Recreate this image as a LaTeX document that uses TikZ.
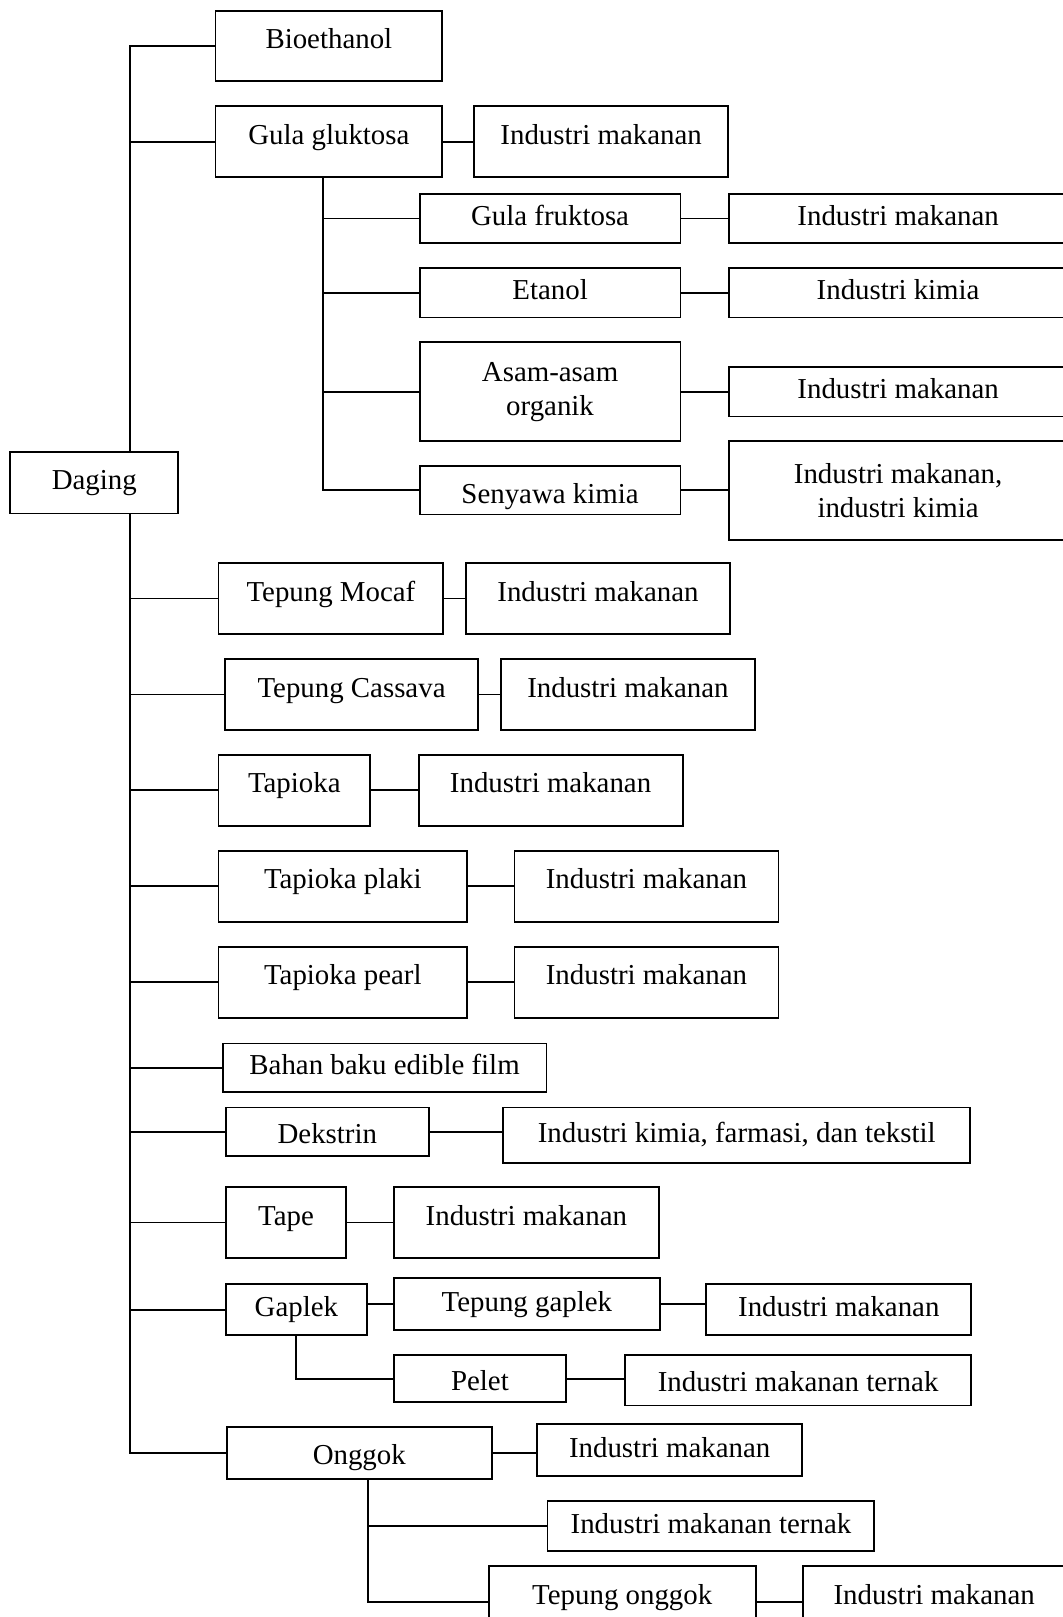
\documentclass[tikz,border=0pt]{standalone}
\usepackage{fontspec}
\setmainfont{Liberation Serif}
\usepackage{tikz}

\tikzset{
  box/.style={draw, anchor=north west, inner sep=2pt, font=\fontsize{28}{33}\selectfont},
  bsize/.style 2 args={minimum width=#1pt, minimum height=#2pt},
  upper/.style={text height=20pt, text depth=15pt},
  mid/.style={text height=20pt, text depth=6pt},
  low/.style={text height=28pt, text depth=6pt},
  lower/.style={text height=32pt, text depth=6pt}
}

\begin{document}
\begin{tikzpicture}[x=1pt, y=1pt, line width=1.8pt]
  \useasboundingbox (0,0) rectangle (1030,-1568);

  % Source
  \node[box, mid, bsize={163}{60}] (daging) at (9,-437) {Daging};

  % Upper branch
  \node[box, upper, bsize={220}{68}] (bio) at (208,-10) {Bioethanol};
  \node[box, upper, bsize={220}{69}] (gluk) at (208,-102) {Gula gluktosa};
  \node[box, upper, bsize={246}{69}] (gluk-ind) at (459,-102) {Industri makanan};

  % Products of gula gluktosa
  \node[box, mid, bsize={253}{48}] (fruk) at (406,-187) {Gula fruktosa};
  \node[box, mid, bsize={328}{48}] (fruk-ind) at (706,-187) {Industri makanan};
  \node[box, mid, bsize={253}{48}] (etanol) at (406,-259) {Etanol};
  \node[box, mid, bsize={328}{48}] (etanol-ind) at (706,-259) {Industri kimia};
  \node[box, align=center, bsize={253}{96}] (asam) at (406,-331) {Asam-asam\\organik};
  \node[box, mid, bsize={328}{48}] (asam-ind) at (706,-355) {Industri makanan};
  \node[box, lower, bsize={253}{47}] (senyawa) at (406,-451) {Senyawa kimia};
  \node[box, align=center, bsize={328}{96}] (senyawa-ind) at (706,-427) {Industri makanan,\\industri kimia};

  % Lower branch
  \node[box, upper, bsize={218}{69}] (mocaf) at (211,-545) {Tepung Mocaf};
  \node[box, upper, bsize={256}{69}] (mocaf-ind) at (451,-545) {Industri makanan};
  \node[box, upper, bsize={246}{69}] (cassava) at (217,-638) {Tepung Cassava};
  \node[box, upper, bsize={246}{69}] (cassava-ind) at (485,-638) {Industri makanan};
  \node[box, upper, bsize={147}{69}] (tapioka) at (211,-731) {Tapioka};
  \node[box, upper, bsize={256}{69}] (tapioka-ind) at (405,-731) {Industri makanan};
  \node[box, upper, bsize={241}{69}] (plaki) at (211,-824) {Tapioka plaki};
  \node[box, upper, bsize={256}{69}] (plaki-ind) at (498,-824) {Industri makanan};
  \node[box, upper, bsize={241}{69}] (pearl) at (211,-917) {Tapioka pearl};
  \node[box, upper, bsize={256}{69}] (pearl-ind) at (498,-917) {Industri makanan};
  \node[box, mid, bsize={314}{47}] (edible) at (215,-1011) {Bahan baku edible film};
  \node[box, low, bsize={197}{47}] (dekstrin) at (218,-1073) {Dekstrin};
  \node[box, mid, bsize={453}{54}] (dekstrin-ind) at (487,-1073) {Industri kimia, farmasi, dan tekstil};
  \node[box, upper, bsize={117}{69}] (tape) at (218,-1150) {Tape};
  \node[box, upper, bsize={257}{69}] (tape-ind) at (381,-1150) {Industri makanan};
  \node[box, mid, bsize={137}{50}] (gaplek) at (218,-1244) {Gaplek};
  \node[box, mid, bsize={258}{51}] (tgaplek) at (381,-1238) {Tepung gaplek};
  \node[box, mid, bsize={257}{50}] (tgaplek-ind) at (684,-1244) {Industri makanan};
  \node[box, low, bsize={167}{46}] (pelet) at (381,-1313) {Pelet};
  \node[box, low, bsize={336}{49}] (pelet-ind) at (605,-1313) {Industri makanan ternak};
  \node[box, low, bsize={257}{50}] (onggok) at (219,-1383) {Onggok};
  \node[box, mid, bsize={257}{50}] (onggok-ind) at (520,-1380) {Industri makanan};
  \node[box, mid, bsize={317}{48}] (onggok-ternak) at (530,-1455) {Industri makanan ternak};
  \node[box, upper, bsize={259}{69}] (tonggok) at (473,-1518) {Tepung onggok};
  \node[box, upper, bsize={254}{69}] (tonggok-ind) at (778,-1518) {Industri makanan};

  % Main trunk
  \coordinate (trunk) at (126,0);
  \draw (trunk |- daging.north) |- (bio.west);
  \draw (trunk |- daging.south) |- (onggok.west);
  \foreach \n in {gluk,mocaf,cassava,tapioka,plaki,pearl,edible,dekstrin,tape,gaplek}
    \draw (trunk |- \n.west) -- (\n.west);

  % Gula gluktosa trunk
  \coordinate (gsub) at (313,0);
  \draw (gsub |- gluk.south) |- (senyawa.west);
  \foreach \n in {fruk,etanol,asam}
    \draw (gsub |- \n.west) -- (\n.west);

  % Gaplek and onggok
  \draw (gaplek.east |- tgaplek.west) -- (tgaplek.west);
  \draw (gaplek.south) |- (pelet.west);
  \coordinate (osub) at (357,0);
  \draw (osub |- onggok.south) |- (tonggok.west);
  \draw (osub |- onggok-ternak.west) -- (onggok-ternak.west);

  % Links to industries
  \foreach \a in {gluk,fruk,etanol,asam,senyawa,mocaf,cassava,tapioka,plaki,pearl,dekstrin,tape,tgaplek,pelet,onggok,tonggok}
    \draw (\a.east) -- (\a.east -| \a-ind.west);
\end{tikzpicture}
\end{document}
